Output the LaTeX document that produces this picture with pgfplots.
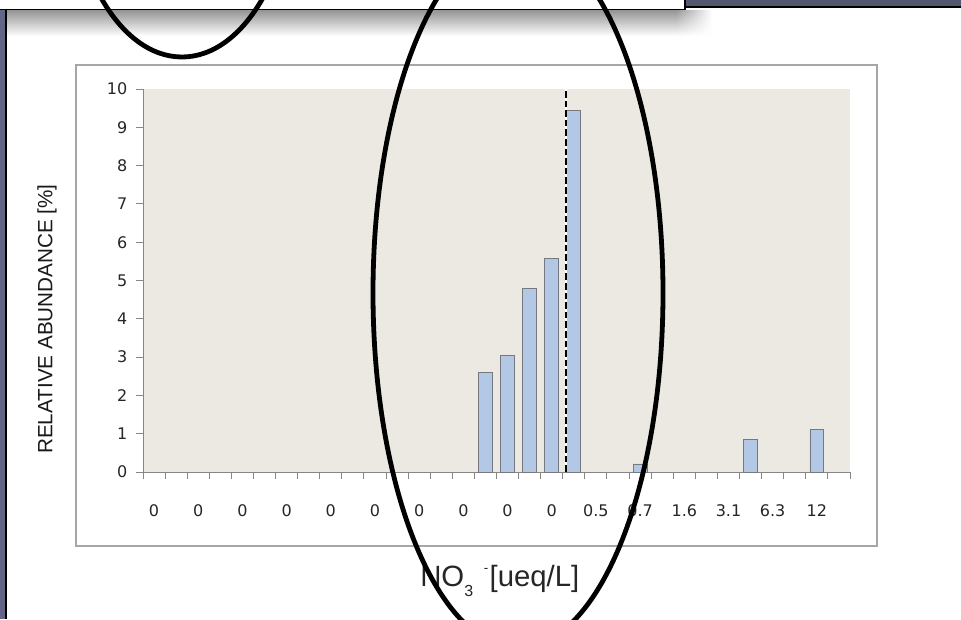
\documentclass[border=0pt]{standalone}
\usepackage{fontspec}
\setmainfont{Liberation Sans}
\newfontfamily\tickfont{DejaVu Sans}
\usepackage{pgfplots}
\pgfplotsset{compat=1.18}
\usepackage{pgfplotstable}
\usetikzlibrary{fadings}

\definecolor{slate}{RGB}{98,101,134}
\definecolor{slatedark}{RGB}{84,87,112}
\definecolor{plotbg}{RGB}{236,233,226}
\definecolor{barfill}{RGB}{178,200,228}
\definecolor{baredge}{RGB}{118,120,128}
\definecolor{axisgray}{RGB}{134,134,134}
\definecolor{framegray}{RGB}{166,166,166}

\tikzfading[name=fade out right, left color=transparent!0, right color=transparent!100]

% relative abundance per nitrate class (class index, percent)
\pgfplotstableread{
cat value
15 2.61
16 3.04
17 4.79
18 5.57
19 9.44
22 0.21
27 0.86
30 1.12
}\abundance

\begin{document}
\begin{tikzpicture}[x=0.75pt,y=-0.75pt]
\useasboundingbox (0,0) rectangle (961,619);
\clip (0,0) rectangle (961,619);
\fill[white] (0,0) rectangle (961,619);

% shadow below the title strip
\shade[top color=black!42, bottom color=white] (7,10) rectangle (676,36);
\shade[top color=black!42, bottom color=white, path fading=fade out right] (675.5,10) rectangle (712,36);
% slide side strip
\fill[slate] (0,0) rectangle (5.5,619);
\draw[black, line width=1.1pt] (6.2,0) -- (6.2,619);
% title strip
\fill[white] (0,0) rectangle (685,9.5);
\draw[black, line width=1.1pt] (0,9.5) -- (685,9.5) -- (685,0);
\fill[slatedark] (685.6,0) rectangle (961,6.5);
\draw[black, line width=1.1pt] (685,7) -- (961,7);

% chart frame
\draw[framegray, line width=0.8pt] (76,65) rectangle (877,546);

\begin{axis}[
  at={(107.25pt,-354pt)}, anchor=south west,
  scale only axis, width=530.25pt, height=287.25pt,
  xmin=-0.5, xmax=31.5, ymin=0, ymax=10,
  axis background/.style={fill=plotbg},
  axis x line*=bottom, axis y line*=left,
  axis line style={axisgray, line width=0.75pt},
  tick align=outside,
  major tick length=5.25pt,
  tick style={axisgray, line width=0.75pt},
  ytick={0,1,...,10},
  xtick={-0.5,0.5,...,31.5}, xticklabels={},
  extra x ticks={0,2,...,30},
  extra x tick labels={0,0,0,0,0,0,0,0,0,0,0.5,0.7,1.6,3.1,6.3,12},
  extra x tick style={major tick length=0pt, tick style={draw=none}},
  /pgf/number format/assume math mode=true,
  tick label style={font=\tickfont\fontsize{12}{14}\selectfont, text=black!85},
  xticklabel style={yshift=-21pt},
  yticklabel style={xshift=-3pt},
]
\addplot[ybar, bar width=0.63, fill=barfill, draw=baredge, line width=0.6pt]
  table[x=cat, y=value]{\abundance};
% threshold marker
\addplot[white, line width=2pt, forget plot] coordinates {(18.64,0) (18.64,10)};
\addplot[black, line width=2pt, dash pattern=on 5pt off 2.2pt, forget plot]
  coordinates {(18.64,0) (18.64,10)};
\end{axis}

% axis titles
\node[rotate=90, inner sep=0, font=\fontsize{15.5}{18}\selectfont, text=black!90]
  at (47,319) {RELATIVE ABUNDANCE [\%]};
\node[anchor=base west, inner sep=0, font=\fontsize{22}{26}\selectfont, text=black!85]
  at (420,586) {NO\raisebox{-8pt}{\fontsize{12}{12}\selectfont 3}\hspace{8pt}\raisebox{10pt}{\fontsize{10}{10}\selectfont -}\hspace{1pt}[ueq/L]};

% hand-drawn highlight ellipses
\draw[black, line width=3.6pt] (518,293) ellipse [x radius=108.75pt, y radius=266.25pt];
\draw[black, line width=3.6pt] (182,-143) ellipse [x radius=85.5pt, y radius=150pt];
\end{tikzpicture}
\end{document}
